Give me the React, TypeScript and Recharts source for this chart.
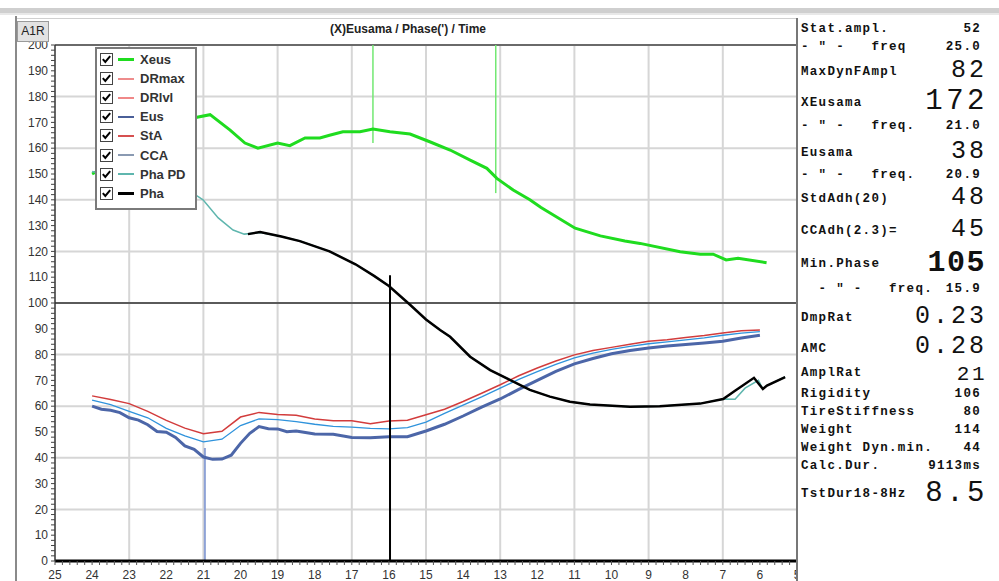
import { LineChart, Line, XAxis, YAxis, CartesianGrid, ReferenceLine, Legend } from 'recharts';

// frequency (Hz, decreasing over time) and readings, taken off the plot
const xeusFreq = [24, 21.17, 20.82, 20.28, 19.88, 19.53, 19.0, 18.67, 18.26, 17.86, 17.6, 17.24, 16.78, 16.43, 15.97, 15.43, 14.9, 14.35, 13.81, 13.36, 13.09, 12.65, 12.2, 11.9, 10.98, 10.3, 9.64, 9.23, 8.15, 7.61, 7.26, 6.91, 6.59, 5.82];
const xeusValues = [150, 172, 173, 167, 162, 160, 162, 161, 164, 164, 165, 166.4, 166.4, 167.4, 166.4, 165.5, 162.5, 159.3, 155.4, 152.2, 148.3, 143.8, 140, 137, 129, 126, 124, 123.1, 119.9, 118.9, 118.9, 116.7, 117.3, 115.6];

const phaPdFreq = [24, 21.17, 21.01, 20.6, 20.2, 19.9, 19.47, 18.9, 18.4, 17.6, 16.9, 16.4, 16.0, 15.43, 15.0, 14.62, 14.35, 13.81, 13.27, 12.74, 12.2, 11.66, 11.12, 10.58, 9.5, 8.7, 7.61, 6.99, 6.67, 6.4, 6.04, 5.92, 5.81, 5.32];
const phaPdValues = [151, 141.5, 140, 133, 128.3, 126.7, 127.3, 125.8, 124, 120, 115, 110.5, 106.6, 99.3, 93.6, 89.5, 86.9, 79.2, 74, 70.2, 66.3, 63.7, 61.7, 60.7, 59.8, 60, 61, 62.8, 62.7, 67, 70, 66.7, 68, 71.3];

const phaFreq = [19.8, 19.47, 18.9, 18.4, 17.6, 16.9, 16.4, 16.0, 15.43, 15.0, 14.62, 14.35, 13.81, 13.27, 12.74, 12.2, 11.66, 11.12, 10.58, 9.5, 8.7, 7.61, 6.99, 6.67, 6.16, 5.92, 5.81, 5.32];
const phaValues = [126.7, 127.5, 125.8, 124, 120, 115, 110.5, 106.6, 99.3, 93.6, 89.5, 86.9, 79.2, 74, 70.2, 66.3, 63.7, 61.7, 60.7, 59.8, 60, 61, 62.8, 66, 71, 66.7, 68, 71.3];

const lowFreq = [24, 23.5, 23, 22.5, 22, 21.5, 21, 20.5, 20, 19.5, 19, 18.5, 18, 17.5, 17, 16.5, 16, 15.5, 15, 14.5, 14, 13.5, 13, 12.5, 12, 11.5, 11, 10.5, 10, 9.5, 9, 8.5, 8, 7.5, 7, 6.5, 6];
const staValues = [64, 62.6, 61, 58, 54.5, 51.5, 49.3, 50.3, 55.8, 57.6, 56.8, 56.5, 55, 54.4, 54.4, 53.2, 54.3, 54.6, 56.7, 58.8, 61.8, 65, 68.3, 71.8, 74.8, 77.5, 79.9, 81.6, 82.8, 84, 85.2, 85.8, 86.6, 87.4, 88.4, 89.2, 89.5];
const ccaValues = [62.4, 60.6, 58, 55.5, 51.4, 48.5, 46.2, 47.2, 52.5, 55.1, 54.8, 54, 53, 52.2, 51.9, 51.4, 51.2, 51.7, 53.8, 57.2, 60.4, 63.6, 67, 70.4, 73.4, 76.2, 78.7, 80.6, 82, 83.2, 84.2, 84.9, 85.7, 86.5, 87.5, 88.3, 88.9];

const eusFreq = [24, 23.75, 23.5, 23.25, 23, 22.75, 22.5, 22.25, 22, 21.75, 21.5, 21.25, 21, 20.75, 20.5, 20.25, 20, 19.75, 19.5, 19.25, 19, 18.75, 18.5, 18.25, 18, 17.5, 17, 16.5, 16, 15.5, 15, 14.5, 14, 13.5, 13, 12.5, 12, 11.5, 11, 10.5, 10, 9.5, 9, 8.5, 8, 7.5, 7, 6.5, 6];
const eusValues = [60, 58.8, 58.4, 57.5, 55.5, 54.6, 52.8, 50.2, 49.9, 47.9, 44.6, 43.3, 40.3, 39.4, 39.5, 41, 45.6, 49.5, 52.1, 51.3, 51.2, 50.1, 50.4, 49.8, 49.2, 49.1, 47.9, 47.8, 48.2, 48.2, 50.4, 53, 56.2, 59.6, 62.8, 66.5, 70, 73.5, 76.4, 78.5, 80.3, 81.6, 82.6, 83.3, 83.9, 84.5, 85.2, 86.4, 87.5];

// marker lines: Xeus markers hang from the top, Eus min and phase min stand on the axis
const xeusMarkFreq = [16.43, 13.12];
const xeusMarkEnd = [162, 142.6];
const eusMinFreq = 20.96;
const eusMinTop = 43.8;
const phaseMinFreq = 15.97;
const phaseMinTop = 110.8;

const xTickLabels = [25, 24, 23, 22, 21, 20, 19, 18, 17, 16, 15, 14, 13, 12, 11, 10, 9, 8, 7, 6, 5];
const yTickLabels = [0, 10, 20, 30, 40, 50, 60, 70, 80, 90, 100, 110, 120, 130, 140, 150, 160, 170, 180, 190, 200];
const gridY = [20, 40, 60, 80, 120, 140, 160, 180];
const gridX = [23, 21, 19, 17, 15, 13, 11, 9, 7];

const legendNames = ['Xeus', 'DRmax', 'DRlvl', 'Eus', 'StA', 'CCA', 'Pha PD', 'Pha'];
const legendColors = ['#1fdc1f', '#ee8c8c', '#f08888', '#4a5f98', '#d65050', '#8a9ab2', '#5fb6ae', '#000000'];

const panelLabels = ['Stat.ampl.', '- " -   freq', 'MaxDynFAmpl', 'XEusama', '- " -   freq.', 'Eusama', '- " -   freq.', 'StdAdh(20)', 'CCAdh(2.3)=', 'Min.Phase', '  - " -   freq.', 'DmpRat', 'AMC', 'AmplRat', 'Rigidity', 'TireStiffness', 'Weight', 'Weight Dyn.min.', 'Calc.Dur.', 'TstDur18-8Hz'];
const panelValues = ['52', '25.0', '82', '172', '21.0', '38', '20.9', '48', '45', '105', '15.9', '0.23', '0.28', '21', '106', '80', '114', '44', '9113ms', '8.5'];

const labelCenter = [29, 47, 72, 103, 126, 153, 175, 199, 231, 264, 289, 318, 349, 373, 394, 412, 430, 448, 466, 494];
const valueCenter = [29, 47, 71, 102, 126, 152, 175, 198, 230, 263, 289, 317, 347, 375, 394, 412, 430, 448, 466, 494];
const rowKind = ['s', 's', 'l', 'xl', 's', 'l', 's', 'l', 'l', 'b', 's', 'l', 'l', 'm', 's', 's', 's', 's', 's', 'xl'];

const mono = '"Liberation Mono", "DejaVu Sans Mono", monospace';
const valueStyle: Record<string, any> = {
  s: { fontSize: 12.5, fontWeight: 700, letterSpacing: 1.3, right: 18 },
  m: { fontSize: 21, fontWeight: 400, letterSpacing: 2.5, right: 12 },
  l: { fontSize: 25, fontWeight: 400, letterSpacing: 3, right: 12 },
  xl: { fontSize: 29, fontWeight: 400, letterSpacing: 3.5, right: 11 },
  b: { fontSize: 30, fontWeight: 700, letterSpacing: 1.5, right: 13 },
};

const toPoints = (freq: number[], values: number[]) => freq.map((f, i) => ({ f, v: values[i] }));

const xTicks = Array.from({ length: 101 }, (_, i) => Math.round((5 + i * 0.2) * 10) / 10);
const yTicks = Array.from({ length: 101 }, (_, i) => i * 2);

const CheckBox = () => (
  <svg width={13} height={13} style={{ display: 'block' }}>
    <rect x={0.5} y={0.5} width={12} height={12} fill="#fff" stroke="#444" />
    <path d="M2.8 6.2 L5.3 9 L10.2 3.2" stroke="#000" strokeWidth={2} fill="none" />
  </svg>
);

const renderLegend = () => (
  <div style={{ width: 102, boxSizing: 'border-box', border: '2px solid #7a7a7a', background: '#fff', padding: '1px 3px 5px 3px' }}>
    {legendNames.map((name, i) => (
      <div key={name} style={{ display: 'flex', alignItems: 'center', height: 19.1 }}>
        <CheckBox />
        <div style={{ width: 16, height: i === 0 || i === 7 ? 3 : 2, background: legendColors[i], marginLeft: 5, marginRight: 6 }} />
        <span style={{ fontFamily: '"Liberation Sans", Arial, sans-serif', fontWeight: 700, fontSize: 13, color: '#333' }}>{name}</span>
      </div>
    ))}
  </div>
);

const StatsPanel = () => (
  <div style={{ position: 'absolute', left: 798, top: 17, width: 201, height: 564, background: '#fff' }}>
    {panelLabels.map((label, i) => {
      const vs = valueStyle[rowKind[i]];
      const lTop = labelCenter[i] - 17;
      const vTop = valueCenter[i] - 17;
      const h = Math.round(vs.fontSize * 0.95);
      return (
        <div key={i}>
          <div style={{ position: 'absolute', left: 3, top: lTop - 7, height: 14, lineHeight: '14px', fontFamily: mono, fontWeight: 700, fontSize: 12.5, letterSpacing: 1.3, whiteSpace: 'pre', color: '#111' }}>{label}</div>
          <div style={{ position: 'absolute', right: vs.right, top: vTop - h / 2, height: h, lineHeight: `${h}px`, fontFamily: mono, fontWeight: vs.fontWeight, fontSize: vs.fontSize, letterSpacing: vs.letterSpacing, whiteSpace: 'pre', color: '#111' }}>{panelValues[i]}</div>
        </div>
      );
    })}
  </div>
);

export default function App() {
  return (
    <div style={{ position: 'absolute', left: 0, top: 0, width: 999, height: 581, background: '#fff', overflow: 'hidden', fontFamily: '"Liberation Sans", Arial, sans-serif' }}>
      <div style={{ position: 'absolute', left: 0, top: 8, width: 999, height: 5, background: '#cfcfcf' }} />
      <div style={{ position: 'absolute', left: 0, top: 13, width: 999, height: 2, background: '#e8e8e8' }} />
      <div style={{ position: 'absolute', left: 15, top: 16, width: 2, height: 565, background: '#8a8a8a' }} />
      <div style={{ position: 'absolute', left: 17, top: 18, width: 780, height: 1, background: '#d0d0d0' }} />

      <div style={{ position: 'absolute', left: 0, top: 0 }}>
        <LineChart width={800} height={581} margin={{ top: 45, right: 3, bottom: 0, left: 10 }}>
          <CartesianGrid horizontalValues={gridY} verticalValues={gridX} stroke="#d6d6d6" strokeWidth={2} />
          <XAxis
            dataKey="f"
            type="number"
            domain={[5, 25]}
            reversed
            allowDataOverflow
            ticks={xTicks}
            interval={0}
            height={20}
            tickSize={4}
            tickMargin={5}
            tickFormatter={(v: number) => (xTickLabels.includes(v) ? String(v) : '')}
            tick={{ fontSize: 12, fill: '#333' }}
            axisLine={{ stroke: '#000', strokeWidth: 3 }}
            tickLine={{ stroke: '#555' }}
          />
          <YAxis
            type="number"
            domain={[0, 200]}
            allowDataOverflow
            ticks={yTicks}
            interval={0}
            width={45}
            tickSize={4}
            tickMargin={3}
            tickFormatter={(v: number) => (yTickLabels.includes(v) ? String(v) : '')}
            tick={{ fontSize: 12, fill: '#333' }}
            axisLine={{ stroke: '#333', strokeWidth: 1.5 }}
            tickLine={{ stroke: '#444' }}
          />
          <ReferenceLine y={100} stroke="#5a5a5a" strokeWidth={2} />
          <ReferenceLine y={200} stroke="#6a6a6a" strokeWidth={2} />
          {xeusMarkFreq.map((f, i) => (
            <ReferenceLine key={f} segment={[{ x: f, y: 200 }, { x: f, y: xeusMarkEnd[i] }]} stroke="#72e872" strokeWidth={1.5} />
          ))}
          <ReferenceLine segment={[{ x: eusMinFreq, y: 0 }, { x: eusMinFreq, y: eusMinTop }]} stroke="#8ea2d6" strokeWidth={2} />
          <Line data={toPoints(lowFreq, staValues)} dataKey="v" type="linear" stroke="#d23c3c" strokeWidth={1.5} dot={false} isAnimationActive={false} />
          <Line data={toPoints(lowFreq, ccaValues)} dataKey="v" type="linear" stroke="#2f93dc" strokeWidth={1.3} dot={false} isAnimationActive={false} />
          <Line data={toPoints(eusFreq, eusValues)} dataKey="v" type="linear" stroke="#4c66a8" strokeWidth={3} dot={false} isAnimationActive={false} />
          <Line data={toPoints(xeusFreq, xeusValues)} dataKey="v" type="linear" stroke="#1fdc1f" strokeWidth={3} dot={false} isAnimationActive={false} />
          <Line data={toPoints(phaPdFreq, phaPdValues)} dataKey="v" type="linear" stroke="#5fb6ae" strokeWidth={1.5} dot={false} isAnimationActive={false} />
          <Line data={toPoints(phaFreq, phaValues)} dataKey="v" type="linear" stroke="#000" strokeWidth={2.5} dot={false} isAnimationActive={false} />
          <ReferenceLine segment={[{ x: phaseMinFreq, y: 0 }, { x: phaseMinFreq, y: phaseMinTop }]} stroke="#000" strokeWidth={2} />
          <Legend content={renderLegend} layout="vertical" align="center" verticalAlign="middle" wrapperStyle={{ left: 95, top: 47, width: 102 }} />
        </LineChart>
      </div>

      <div style={{ position: 'absolute', left: 17, top: 21, width: 30, height: 19, lineHeight: '19px', textAlign: 'center', background: '#e2e2e2', border: '1px solid #9a9a9a', fontSize: 12, color: '#222' }}>A1R</div>
      <div style={{ position: 'absolute', left: 17, top: 22, width: 782, textAlign: 'center', fontSize: 12, fontWeight: 700, color: '#222' }}>(X)Eusama / Phase(') / Time</div>

      <StatsPanel />
      <div style={{ position: 'absolute', left: 796, top: 18, width: 2, height: 563, background: '#777' }} />
    </div>
  );
}
